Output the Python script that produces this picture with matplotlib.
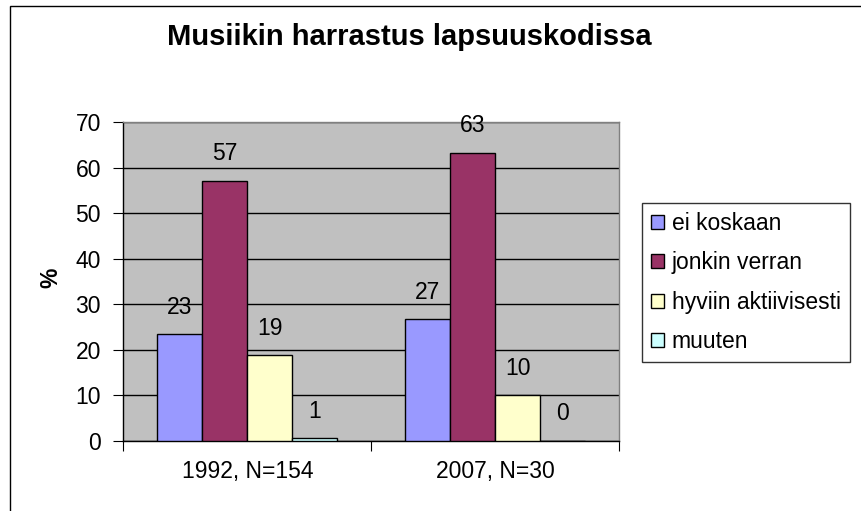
import matplotlib
matplotlib.use("Agg")
import matplotlib.pyplot as plt
import numpy as np
from matplotlib.patches import Rectangle

plt.rcParams['font.family'] = ['Liberation Sans', 'DejaVu Sans']

categories = ["1992, N=154", "2007, N=30"]
series = ["ei koskaan", "jonkin verran", "hyviin aktiivisesti", "muuten"]
values_1992 = [23.4, 57.1, 18.8, 0.6]
values_2007 = [26.7, 63.3, 10.0, 0.0]
colors = ["#9999FF", "#993366", "#FFFFCC", "#CCFFFF"]
yticks = [0, 10, 20, 30, 40, 50, 60, 70]

data = np.array([values_1992, values_2007])  # shape (cats, series)

FS = 16.5
W, H = 861, 511
fig = plt.figure(figsize=(W / 100, H / 100), dpi=100)
fig.patch.set_facecolor("white")

# outer chart border
fig.patches.append(Rectangle((9.5 / W, -0.1), 1.2, (H - 5.7) / H + 0.1,
                             transform=fig.transFigure, fill=False,
                             edgecolor="black", linewidth=1.0))

ax = fig.add_axes([123.3 / W, 70 / H, 496 / W, 319 / H])
ax.set_facecolor("#C0C0C0")

n = len(series)
gap = 1.5
bw = 1.0 / (n + gap)
x = np.arange(len(categories))
for i, (s, c) in enumerate(zip(series, colors)):
    pos = x + (i - (n - 1) / 2) * bw
    ax.bar(pos, data[:, i], width=bw, color=c, edgecolor="black",
           linewidth=1.0, label=s, zorder=3)
    for xp, v in zip(pos, data[:, i]):
        ax.annotate(f"{v:.0f}", (xp, v), xytext=(0, 19.5), textcoords="offset points",
                    ha="center", va="center", fontsize=FS, zorder=4)

ax.set_xlim(-0.5, 1.5)
ax.set_ylim(0, 70)
ax.set_yticks(yticks)
ax.set_yticklabels([str(t) for t in yticks], fontsize=FS)
ax.yaxis.grid(True, color="black", linewidth=1.0, zorder=1)
ax.set_axisbelow(True)

ax.set_xticks([-0.5, 0.5, 1.5])
ax.set_xticklabels(["", "", ""])
ax.set_xticks(x, minor=True)
ax.set_xticklabels(categories, minor=True, fontsize=FS)
ax.tick_params(axis="x", which="minor", length=0, pad=14)
ax.tick_params(axis="x", which="major", length=7, direction="out", color="black")
ax.tick_params(axis="y", length=7, direction="out", color="black", pad=9)

for side in ["top", "right"]:
    ax.spines[side].set_color("#808080")
    ax.spines[side].set_linewidth(1.0)
ax.spines["left"].set_color("black")
ax.spines["bottom"].set_color("black")
ax.spines["left"].set_linewidth(1.0)
ax.spines["bottom"].set_linewidth(1.0)

ax.set_ylabel("%", fontsize=FS, fontweight="bold")
ax.yaxis.set_label_coords((62 - 123.3) / 496, (441 - 278) / 319)

fig.text(409 / W, 1 - 37 / H, "Musiikin harrastus lapsuuskodissa",
         ha="center", va="center", fontsize=21, fontweight="bold")

leg = fig.legend(loc="upper left", bbox_to_anchor=(642 / W, 1 - 203 / H),
                 frameon=True, fancybox=False, fontsize=FS,
                 handlelength=0.57, handleheight=0.57, handletextpad=0.35,
                 labelspacing=0.72, borderpad=0.38, borderaxespad=0)
leg.get_frame().set_edgecolor("black")
leg.get_frame().set_linewidth(1.0)

fig.savefig("out.png", dpi=100)
